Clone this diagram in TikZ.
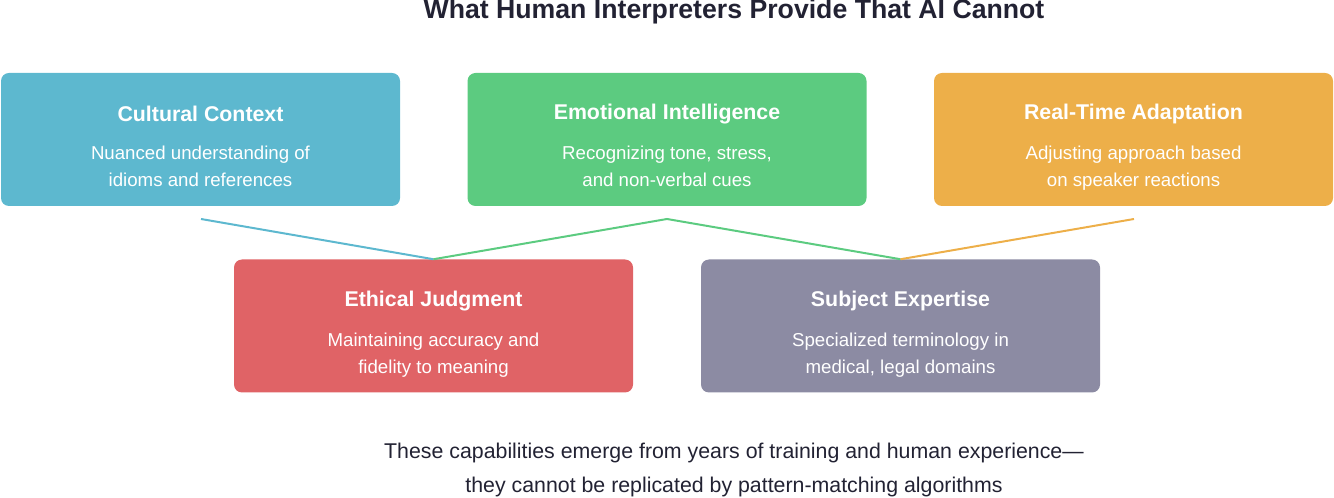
\documentclass[tikz,border=0pt]{standalone}
\usepackage{fontspec}
\setmainfont{Liberation Sans}
\usetikzlibrary{positioning}
\definecolor{cblue}{HTML}{5DB8CF}
\definecolor{cgreen}{HTML}{5CCB80}
\definecolor{corange}{HTML}{EDAF49}
\definecolor{cred}{HTML}{E06366}
\definecolor{cgray}{HTML}{8C8BA3}
\definecolor{ink}{HTML}{222233}
\tikzset{
  card/.style = {rounded corners=6pt, minimum width=299.25pt, minimum height=99.75pt, inner sep=0pt},
  head/.style = {text=white, font=\bfseries\fontsize{16}{19}\selectfont},
  body/.style = {text=white, align=center, font=\fontsize{14}{20}\selectfont,
    execute at begin node=\strut, execute at end node=\strut},
  link/.style = {line width=1.5pt}
}
\begin{document}
\begin{tikzpicture}[x=0.75pt, y=-0.75pt]
\useasboundingbox (0,0) rectangle (1334,498);

\node (title) at (734,12) [text=ink, font=\bfseries\fontsize{20}{24}\selectfont] {What Human Interpreters Provide That AI Cannot};

% top row
\node (cult) at (200.5,139.5) [card, fill=cblue] {};
\node at (200.5,114) [head] {Cultural Context};
\node at (200.5,170.5) [body] {Nuanced understanding of\\idioms and references};

\node (emot) at (667,139.5) [card, fill=cgreen] {};
\node at (667,114) [head] {Emotional Intelligence};
\node at (667,170.5) [body] {Recognizing tone, stress,\\and non-verbal cues};

\node (real) at (1133.5,139.5) [card, fill=corange] {};
\node at (1133.5,114) [head] {Real-Time Adaptation};
\node at (1133.5,170.5) [body] {Adjusting approach based\\on speaker reactions};

% bottom row
\node (ethi) at (433.5,326) [card, fill=cred] {};
\node at (433.5,301) [head] {Ethical Judgment};
\node at (433.5,357.5) [body] {Maintaining accuracy and\\fidelity to meaning};

\node (subj) at (900.5,326) [card, fill=cgray] {};
\node at (900.5,301) [head] {Subject Expertise};
\node at (900.5,357.5) [body] {Specialized terminology in\\medical, legal domains};

% links
\coordinate (cultB) at (201,219);
\coordinate (emotB) at (667,219);
\coordinate (realB) at (1134,219);
\draw [link, cblue] (cultB) -- (ethi.north);
\draw [link, cgreen] (ethi.north) -- (emotB) -- (subj.north);
\draw [link, corange] (realB) -- (subj.north);

\node (note) at (734,470) [text=ink, align=center, font=\fontsize{16}{25}\selectfont]
  {These capabilities emerge from years of training and human experience—\\they cannot be replicated by pattern-matching algorithms};
\end{tikzpicture}
\end{document}
